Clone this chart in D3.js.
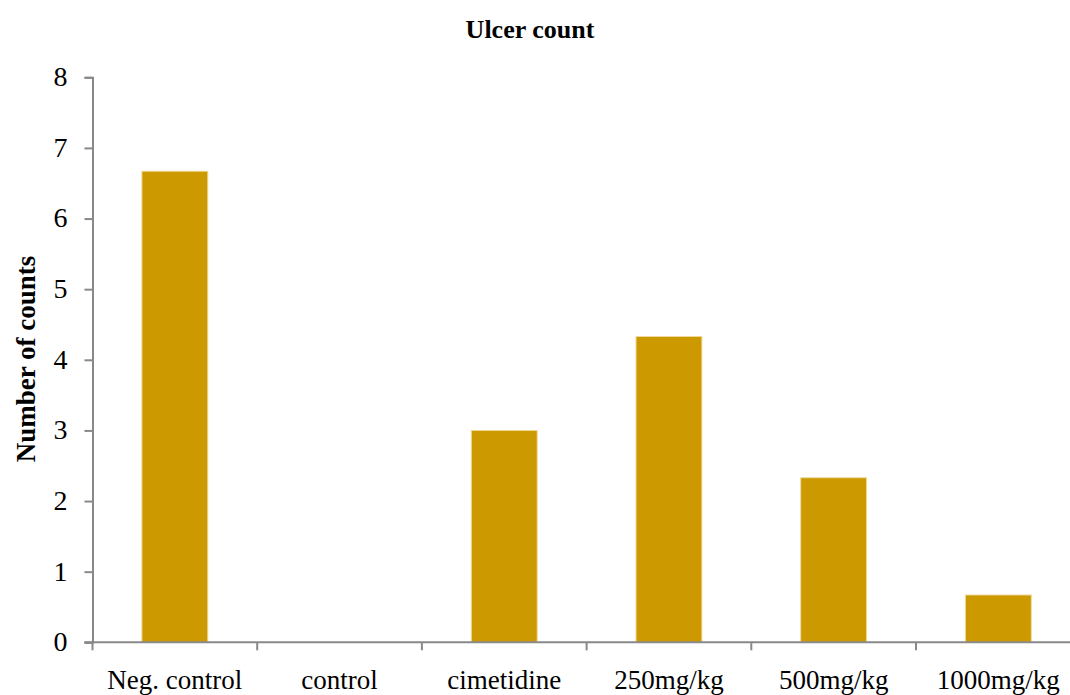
<!DOCTYPE html>
<html>
<head>
<meta charset="utf-8">
<script src="https://d3js.org/d3.v7.min.js"></script>
<style>
  html, body { margin: 0; padding: 0; background: #fff; }
  svg { display: block; }
  text { font-family: "Liberation Serif", "Times New Roman", serif; fill: #000; }
</style>
</head>
<body>
<svg id="chart" width="1070" height="695"></svg>
<script>
// Ulcer count per treatment group
const categories = ["Neg. control", "control", "cimetidine", "250mg/kg", "500mg/kg", "1000mg/kg"];
const ulcerCounts = [6.67, 0, 3.0, 4.33, 2.33, 0.67];
const yTicks = [0, 1, 2, 3, 4, 5, 6, 7, 8];

const W = 1070, H = 695;
const plot = { left: 92.5, top: 77.3, bottom: 642.3, bandW: 164.7 };

const svg = d3.select("#chart");

const x = d3.scaleBand()
  .domain(categories)
  .range([plot.left, plot.left + plot.bandW * categories.length])
  .paddingInner(0.6)
  .paddingOuter(0.3);

const y = d3.scaleLinear().domain([0, 8]).range([plot.bottom, plot.top]);

const axisColor = "#898989";

// bars
svg.append("g")
  .selectAll("rect")
  .data(categories.map((c, i) => ({ c, v: ulcerCounts[i] })).filter(d => d.v > 0))
  .join("rect")
  .attr("x", d => x(d.c))
  .attr("y", d => y(d.v))
  .attr("width", x.bandwidth())
  .attr("height", d => y(0) - y(d.v))
  .attr("fill", "#cc9900")
  .attr("stroke", "#efd89a")
  .attr("stroke-width", 1);

// y axis
const yAxis = svg.append("g")
  .attr("transform", `translate(${plot.left},0)`)
  .call(d3.axisLeft(y).tickValues(yTicks).tickSize(8).tickPadding(17).tickFormat(d3.format("d")));
yAxis.select(".domain").attr("stroke", axisColor).attr("stroke-width", 2);
yAxis.selectAll(".tick line").attr("stroke", axisColor).attr("stroke-width", 2);
yAxis.selectAll(".tick text")
  .attr("font-family", "Liberation Serif, Times New Roman, serif")
  .attr("font-size", 28)
  .attr("dy", "0.3em")
  .attr("fill", "#000");

// x axis: ticks on band boundaries
const xAxisG = svg.append("g");
xAxisG.append("line")
  .attr("x1", plot.left - 8).attr("x2", W)
  .attr("y1", plot.bottom).attr("y2", plot.bottom)
  .attr("stroke", axisColor).attr("stroke-width", 2);
const boundaries = d3.range(categories.length + 1).map(i => plot.left + i * plot.bandW);
xAxisG.selectAll("line.tick")
  .data(boundaries)
  .join("line")
  .attr("class", "tick")
  .attr("x1", d => d).attr("x2", d => d)
  .attr("y1", plot.bottom).attr("y2", plot.bottom + 8)
  .attr("stroke", axisColor).attr("stroke-width", 2);
xAxisG.selectAll("text")
  .data(categories)
  .join("text")
  .attr("x", d => x(d) + x.bandwidth() / 2)
  .attr("y", 688.5)
  .attr("text-anchor", "middle")
  .attr("font-size", 27)
  .text(d => d);

// title
svg.append("text")
  .attr("x", 530)
  .attr("y", 37.5)
  .attr("text-anchor", "middle")
  .attr("font-size", 26)
  .attr("font-weight", "bold")
  .text("Ulcer count");

// y axis title
svg.append("text")
  .attr("transform", "translate(35,359) rotate(-90)")
  .attr("text-anchor", "middle")
  .attr("font-size", 27)
  .attr("font-weight", "bold")
  .text("Number of counts");
</script>
</body>
</html>
